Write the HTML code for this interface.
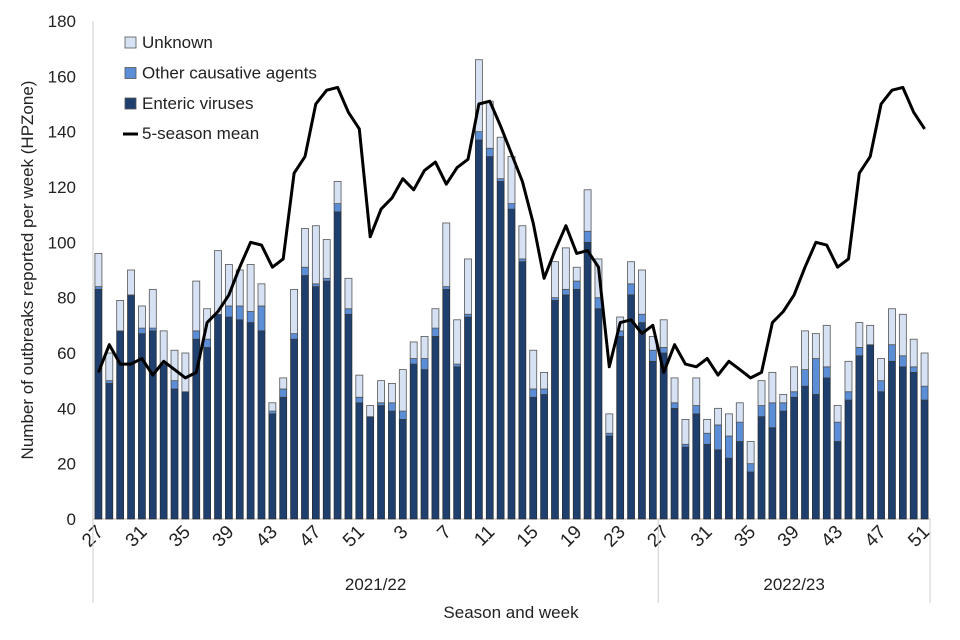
<!DOCTYPE html>
<html><head><meta charset="utf-8"><style>
body{margin:0;background:#fff;}
svg{display:block;font-family:"Liberation Sans",Arial,sans-serif;}
</style></head><body>
<svg id="chart" width="960" height="640"></svg>
<script>
const weeks=[27,28,29,30,31,32,33,34,35,36,37,38,39,40,41,42,43,44,45,46,47,48,49,50,51,52,1,2,3,4,5,6,7,8,9,10,11,12,13,14,15,16,17,18,19,20,21,22,23,24,25,26,27,28,29,30,31,32,33,34,35,36,37,38,39,40,41,42,43,44,45,46,47,48,49,50,51];
const enteric=[83,49,68,81,67,68,56,47,46,65,62,74,73,72,71,68,38,44,65,88,84,86,111,74,42,37,41,39,36,56,54,66,83,55,73,137,131,122,112,93,44,45,79,81,83,100,76,30,66,81,71,57,60,40,26,38,27,25,22,28,17,37,33,39,44,48,45,51,28,43,59,63,46,57,55,53,43];
const other=[1,1,0,0,2,1,0,3,0,3,3,0,4,5,4,9,1,3,2,3,1,1,3,2,2,0,1,3,3,2,4,3,1,1,1,3,3,1,2,1,3,2,1,2,3,4,4,1,2,4,3,4,2,2,1,3,4,9,8,7,3,4,9,3,2,6,13,4,7,3,3,0,4,6,4,2,5];
const unknown=[12,10,11,9,8,14,12,11,14,18,11,23,15,13,17,8,3,4,16,14,21,14,8,11,8,4,8,7,15,6,8,7,23,16,20,26,17,15,17,12,14,6,13,15,5,15,14,7,5,8,16,5,10,9,9,10,5,6,8,7,8,9,11,3,9,14,9,15,6,11,9,7,8,13,15,10,12];
const meanLine=[53,63,56,56,58,52,57,54,51,53,71,75,81,91,100,99,91,94,125,131,150,155,156,147,141,102,112,116,123,119,126,129,121,127,130,150,151,142,132,122,107,87,97,106,96,97,91,55,71,72,67,70,53,63,56,55,58,52,57,54,51,53,71,75,81,91,100,99,91,94,125,131,150,155,156,147,141];
const yTicks=[0,20,40,60,80,100,120,140,160,180];
const seasons=["2021/22","2022/23"];
const seasonLen=[52,25];

const svg=document.getElementById('chart');
const NS='http://www.w3.org/2000/svg';
const X0=93,X1=930,Y0=519,Y1=21,YMAX=180;
const slot=(X1-X0)/weeks.length;
const xc=i=>X0+slot*(i+0.5);
const y=v=>Y0-(Y0-Y1)*v/YMAX;
function mk(tag,attrs,parent){const e=document.createElementNS(NS,tag);for(const k in attrs)e.setAttribute(k,attrs[k]);(parent||svg).appendChild(e);return e;}

yTicks.forEach(t=>{
  const tx=mk('text',{x:76,y:y(t)+6,'text-anchor':'end','font-size':17,fill:'#222'});
  tx.textContent=t;
  
  
});
const yt=mk('text',{x:0,y:0,transform:'translate(33,270) rotate(-90)','text-anchor':'middle','font-size':17,fill:'#222'});
yt.textContent='Number of outbreaks reported per week (HPZone)';



const ax=mk('line',{x1:X0,y1:Y0,x2:X1,y2:Y0,stroke:'#bbb','stroke-width':1});


const ay=mk('line',{x1:X0,y1:Y1,x2:X0,y2:Y0,stroke:'#ccc','stroke-width':1});



const bw=7;
weeks.forEach((w,i)=>{
  const g=mk('g',{});
  
  
  const x=xc(i)-bw/2;
  const e=enteric[i],o=other[i],u=unknown[i];
  const r1=mk('rect',{x:x,y:y(e),width:bw,height:y(0)-y(e),fill:'#1f3f6e',stroke:'#2a2a2a','stroke-width':0.7},g);
  
  
  if(o>0){const r2=mk('rect',{x:x,y:y(e+o),width:bw,height:y(e)-y(e+o),fill:'#5b8ed6',stroke:'#3a3a3a','stroke-width':0.7},g);
  
  }
  if(u>0){const r3=mk('rect',{x:x,y:y(e+o+u),width:bw,height:y(e+o)-y(e+o+u),fill:'#d6e2f4',stroke:'#555','stroke-width':0.8},g);
  
  }
});

const pts=meanLine.map((v,i)=>xc(i).toFixed(1)+','+y(v).toFixed(1)).join(' ');
const pl=mk('polyline',{points:pts,fill:'none',stroke:'#000','stroke-width':3,'stroke-linejoin':'round'});



weeks.forEach((w,i)=>{
  if(i%4!==0)return;
  const t=mk('text',{x:0,y:0,transform:'translate('+(xc(i)+6)+',533) rotate(-45)','text-anchor':'end','font-size':19,fill:'#222'});
  t.textContent=w;
  
  
});
let start=0;
[X0].concat(seasonLen.map((l,k)=>X0+slot*seasonLen.slice(0,k+1).reduce((a,b)=>a+b,0))).forEach(xx=>{
  const l=mk('line',{x1:xx,y1:Y0,x2:xx,y2:603,stroke:'#ccc','stroke-width':1});
  
  
});
seasons.forEach((s,k)=>{
  const a=X0+slot*start,b=X0+slot*(start+seasonLen[k]);start+=seasonLen[k];
  const t=mk('text',{x:(a+b)/2,y:590,'text-anchor':'middle','font-size':17,fill:'#222'});
  t.textContent=s;
  
  
});
const xt=mk('text',{x:511,y:618,'text-anchor':'middle','font-size':17,fill:'#222'});
xt.textContent='Season and week';



const leg=[['Unknown','#d6e2f4'],['Other causative agents','#5b8ed6'],['Enteric viruses','#1f3f6e']];
leg.forEach((L,k)=>{
  const g=mk('g',{});
  
  
  const yy=43+k*30.5;
  mk('rect',{x:125,y:yy-6,width:11,height:11,fill:L[1],stroke:'#555','stroke-width':0.8},g);
  const t=mk('text',{x:142,y:yy+5,'font-size':17,fill:'#222'},g);
  t.textContent=L[0];
});
const g4=mk('g',{});


mk('line',{x1:123,y1:134,x2:138,y2:134,stroke:'#000','stroke-width':3},g4);
const t4=mk('text',{x:142,y:139,'font-size':17,fill:'#222'},g4);
t4.textContent='5-season mean';
</script>
</body></html>
